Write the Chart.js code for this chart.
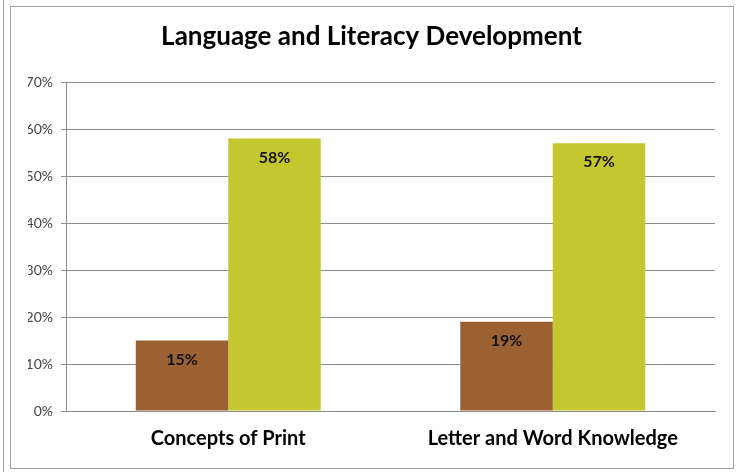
<!DOCTYPE html>
<html lang="en">
<head>
    <meta charset="UTF-8">
    <title>Language and Literacy Development</title>
    <script src="https://cdn.jsdelivr.net/npm/chart.js"></script>
    <style>
        html, body { margin: 0; padding: 0; background: #fff; }
        #wrap { position: relative; width: 739px; height: 472px; }
        #frame { position: absolute; left: 10px; top: 6px; width: 722px; height: 461px; border: 1px solid #a0a0a0; }
        #edge { position: absolute; left: 3px; top: 0; width: 1px; height: 472px; background: #a0a0a0; }
        canvas { position: absolute; left: 0; top: 0; }
    </style>
</head>
<body>
<div id="wrap">
    <div id="edge"></div>
    <div id="frame"></div>
    <canvas id="chart" width="739" height="472"></canvas>
</div>
<script>
    const categories = ['Concepts of Print', 'Letter and Word Knowledge'];
    const seriesA = [15, 19];   // brown bars
    const seriesB = [58, 57];   // yellow-green bars
    const yMax = 70;
    const yStep = 10;

    // draws the value inside each bar, near its top
    const barLabels = {
        id: 'barLabels',
        afterDatasetsDraw(chart) {
            const ctx = chart.ctx;
            ctx.save();
            ctx.font = 'bold 16px Lato, sans-serif';
            ctx.fillStyle = '#111';
            ctx.textAlign = 'center';
            ctx.textBaseline = 'middle';
            chart.data.datasets.forEach((ds, i) => {
                chart.getDatasetMeta(i).data.forEach((bar, j) => {
                    ctx.fillText(ds.data[j] + '%', bar.x, bar.y + 19);
                });
            });
            ctx.restore();
        }
    };

    new Chart(document.getElementById('chart'), {
        type: 'bar',
        data: {
            labels: categories,
            datasets: [
                { data: seriesA, backgroundColor: '#9b6133' },
                { data: seriesB, backgroundColor: '#c4c72d' }
            ]
        },
        options: {
            responsive: false,
            animation: false,
            layout: { padding: { left: 28, right: 24, top: 0, bottom: 0 } },
            datasets: { bar: { categoryPercentage: 0.57, barPercentage: 1 } },
            plugins: {
                legend: { display: false },
                tooltip: { enabled: false },
                title: {
                    display: true,
                    text: 'Language and Literacy Development',
                    color: '#000',
                    font: { family: 'Lato', size: 26, weight: 'bold' },
                    padding: { top: 21, bottom: 30 }
                }
            },
            scales: {
                x: {
                    afterFit(scale) { scale.height = 61; },
                    grid: { display: false, drawTicks: false },
                    border: { color: '#8c8c8c' },
                    ticks: {
                        color: '#000',
                        padding: 16,
                        font: { family: 'Lato', size: 20, weight: 'bold' }
                    }
                },
                y: {
                    min: 0,
                    max: yMax,
                    afterFit(scale) { scale.width = 38; },
                    grid: { color: '#8c8c8c', tickLength: 5 },
                    border: { color: '#8c8c8c' },
                    ticks: {
                        stepSize: yStep,
                        padding: 8,
                        color: '#444',
                        font: { family: 'Lato', size: 14 },
                        callback: v => v + '%'
                    }
                }
            }
        },
        plugins: [barLabels]
    });
</script>
</body>
</html>
